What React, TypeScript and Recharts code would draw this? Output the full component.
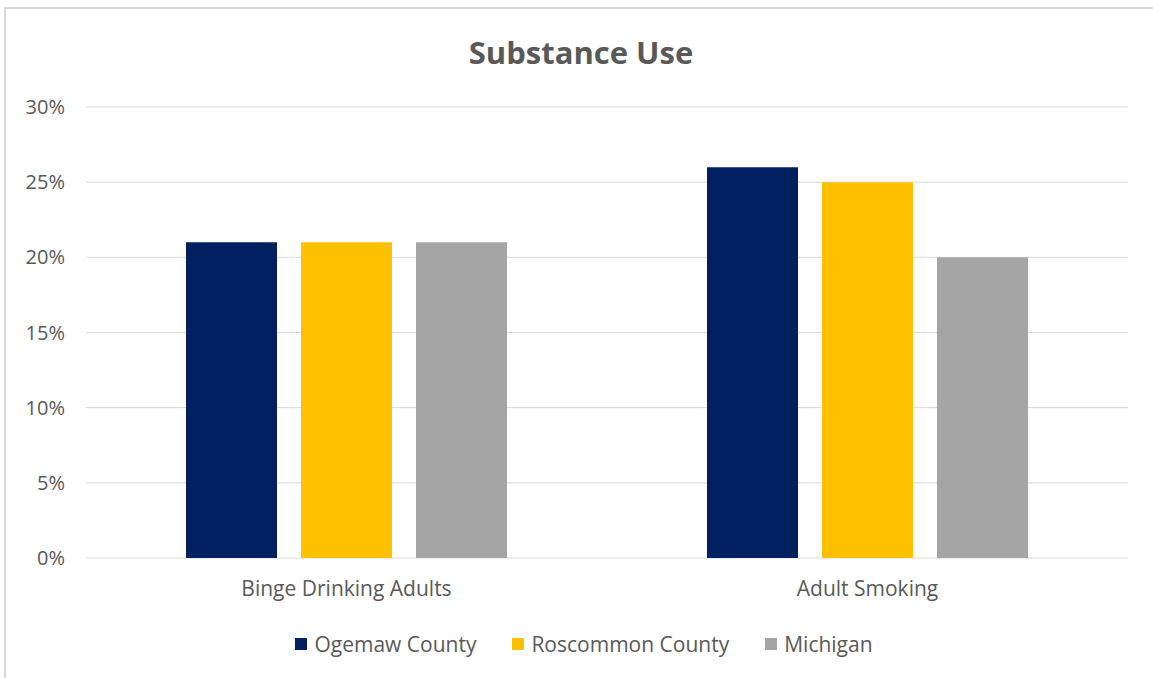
import React from 'react';
import { BarChart, Bar, XAxis, YAxis, CartesianGrid, Legend } from 'recharts';

const categories = ['Binge Drinking Adults', 'Adult Smoking'];
const ogemaw = [0.21, 0.26];
const roscommon = [0.21, 0.25];
const michigan = [0.21, 0.2];
const yTicks = [0, 0.05, 0.1, 0.15, 0.2, 0.25, 0.3];

const SERIES = [
  { key: 'ogemaw', name: 'Ogemaw County', color: '#002060' },
  { key: 'roscommon', name: 'Roscommon County', color: '#FFC000' },
  { key: 'michigan', name: 'Michigan', color: '#A5A5A5' },
];

const FONT = '"Open Sans", Lato, sans-serif';
const TEXT = '#595959';

const data = categories.map((name, i) => ({
  name,
  ogemaw: ogemaw[i],
  roscommon: roscommon[i],
  michigan: michigan[i],
}));

// legend drawn as a simple flex row below the axis labels
const LegendRow = () => (
  <div
    style={{
      height: 60,
      position: 'relative',
      top: -4,
      left: 20,
      display: 'flex',
      justifyContent: 'center',
      fontFamily: FONT,
      fontSize: 21,
      color: TEXT,
      lineHeight: '24px',
    }}
  >
    {SERIES.map((s, i) => (
      <div
        key={s.key}
        style={{ display: 'flex', alignItems: 'center', marginLeft: i === 0 ? 0 : 36 }}
      >
        <span style={{ width: 12, height: 12, background: s.color, marginRight: 7, display: 'inline-block' }} />
        {s.name}
      </div>
    ))}
  </div>
);

const App: React.FC = () => {
  return (
    <div style={{ position: 'absolute', left: 0, top: 0, width: 1153, height: 678, background: '#fff' }}>
      <div
        style={{
          position: 'absolute',
          left: 4,
          top: 7,
          right: 0,
          bottom: 0,
          borderTop: '2px solid #D9D9D9',
          borderLeft: '2px solid #D9D9D9',
        }}
      />
      <div
        style={{
          position: 'absolute',
          left: 5,
          width: 1152,
          top: 31,
          textAlign: 'center',
          fontFamily: FONT,
          fontWeight: 700,
          fontSize: 31,
          lineHeight: '42px',
          color: TEXT,
        }}
      >
        Substance Use
      </div>
      <div style={{ position: 'absolute', left: 0, top: 0 }}>
        <BarChart
          width={1153}
          height={678}
          data={data}
          margin={{ top: 107, right: 25, left: 0, bottom: 0 }}
          barSize={91}
          barGap={24}
        >
          <CartesianGrid vertical={false} stroke="#D9D9D9" />
          <XAxis
            dataKey="name"
            height={60}
            axisLine={false}
            tickLine={false}
            tickMargin={17}
            tick={{ fill: TEXT, fontSize: 21, fontFamily: FONT }}
          />
          <YAxis
            width={86}
            domain={[0, 0.3]}
            ticks={yTicks}
            axisLine={false}
            tickLine={false}
            tickMargin={15}
            tickFormatter={(v: number) => `${Math.round(v * 100)}%`}
            tick={{ fill: TEXT, fontSize: 20, fontFamily: FONT }}
          />
          <Legend verticalAlign="bottom" content={() => <LegendRow />} />
          {SERIES.map((s) => (
            <Bar key={s.key} dataKey={s.key} name={s.name} fill={s.color} isAnimationActive={false} />
          ))}
        </BarChart>
      </div>
    </div>
  );
};

export default App;
